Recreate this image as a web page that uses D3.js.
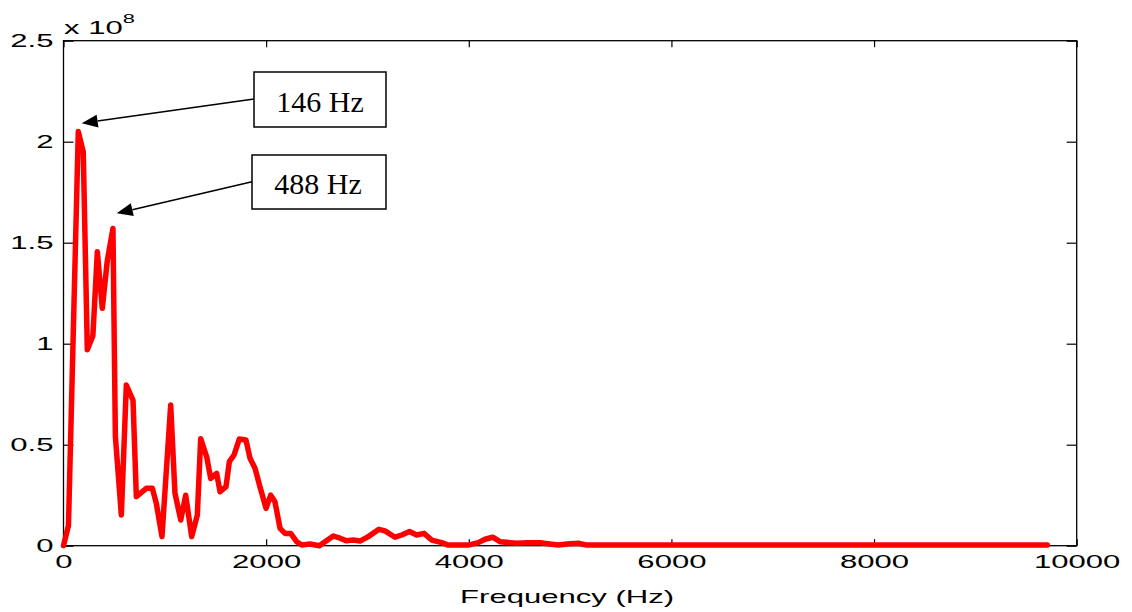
<!DOCTYPE html>
<html>
<head>
<meta charset="utf-8">
<script src="https://cdn.jsdelivr.net/npm/d3@7"></script>
<style>
  body { margin: 0; background: #fff; }
  svg { display: block; }
</style>
</head>
<body>
<script>
// spectrum (frequency in Hz, amplitude in units of 1e8)
var freqs = [0, 49, 146, 195, 235, 290, 334, 383, 432, 488, 512, 571, 620, 686, 719, 817, 877, 916, 972,
  1058, 1100, 1157, 1206, 1265, 1321, 1354, 1413, 1453, 1512, 1545, 1604, 1637, 1683, 1735, 1801, 1841,
  1890, 1939, 1999, 2045, 2087, 2137, 2186, 2242, 2301, 2351, 2433, 2525, 2581, 2663, 2729, 2788, 2861,
  2926, 3008, 3113, 3173, 3272, 3338, 3415, 3486, 3558, 3634, 3733, 3798, 3995, 4094, 4160, 4236, 4308,
  4473, 4571, 4703, 4818, 4884, 4966, 5081, 5164, 9710];
var amps = [0, 0.1, 2.05, 1.95, 0.97, 1.04, 1.455, 1.175, 1.41, 1.57, 0.54, 0.152, 0.795, 0.72, 0.243,
  0.284, 0.284, 0.21, 0.045, 0.697, 0.26, 0.127, 0.25, 0.045, 0.152, 0.53, 0.44, 0.333, 0.358, 0.267,
  0.292, 0.416, 0.449, 0.528, 0.523, 0.433, 0.383, 0.292, 0.185, 0.25, 0.218, 0.086, 0.061, 0.061, 0.02,
  0.003, 0.008, 0, 0.02, 0.048, 0.037, 0.025, 0.028, 0.023, 0.045, 0.081, 0.073, 0.042, 0.053, 0.07,
  0.053, 0.061, 0.028, 0.015, 0.003, 0.003, 0.015, 0.032, 0.042, 0.02, 0.012, 0.015, 0.015, 0.007, 0.003,
  0.008, 0.012, 0.003, 0.003];
var xTicks = [0, 2000, 4000, 6000, 8000, 10000];
var yTicks = [0, 0.5, 1, 1.5, 2, 2.5];
var yTickLabels = ['0', '0.5', '1', '1.5', '2', '2.5'];
var peakLabels = ['146 Hz', '488 Hz'];

var w = 1132;
var h = 612;
var plotL = 63.5, plotR = 1076.7, plotT = 40.7, plotB = 545.7;
var sx = 1.68; // the original text is stretched sideways
var font = '"Liberation Sans", Arial, Helvetica, sans-serif';

var svg = d3.select('body').append('svg')
            .attr('width', w)
            .attr('height', h);

var x = d3.scaleLinear().domain([0, 10000]).range([plotL, plotR]);
var y = d3.scaleLinear().domain([0, 2.5]).range([plotB, plotT]);

var data = freqs.map(function(f, i){ return {f: f, v: amps[i]}; });

// frame
svg.append('rect')
   .attr('x', plotL).attr('y', plotT)
   .attr('width', plotR - plotL).attr('height', plotB - plotT)
   .attr('fill', 'none').attr('stroke', '#000').attr('stroke-width', 1.3);

var xAxis = d3.axisBottom(x).tickValues(xTicks).tickSizeInner(-6.5).tickSizeOuter(0).tickPadding(9.3)
              .tickFormat(d3.format('d'));
var yAxis = d3.axisLeft(y).tickValues(yTicks).tickSizeInner(-10).tickSizeOuter(0).tickPadding(10)
              .tickFormat(function(d, i){ return yTickLabels[i]; });

var gx = svg.append('g').attr('transform', 'translate(0,' + plotB + ')').call(xAxis);
var gy = svg.append('g').attr('transform', 'translate(' + plotL + ',0)').call(yAxis);
svg.append('g').attr('transform', 'translate(0,' + plotT + ')')
   .call(d3.axisTop(x).tickValues(xTicks).tickSizeInner(-6.5).tickSizeOuter(0).tickFormat(''));
svg.append('g').attr('transform', 'translate(' + plotR + ',0)')
   .call(d3.axisRight(y).tickValues(yTicks).tickSizeInner(-10).tickSizeOuter(0).tickFormat(''));

svg.selectAll('.domain').remove();
svg.selectAll('.tick line').attr('stroke', '#000').attr('stroke-width', 1.2);

gx.selectAll('text')
  .style('font-family', font).style('font-size', '18.5px').attr('fill', '#000')
  .attr('transform', 'scale(' + sx + ',1)');
gy.selectAll('text')
  .style('font-family', font).style('font-size', '18.5px').attr('fill', '#000')
  .attr('x', -10 / sx)
  .attr('transform', 'scale(' + sx + ',1)');

// exponent
var ex = svg.append('text')
   .attr('transform', 'translate(64,33.5) scale(' + sx + ',1)')
   .style('font-family', font).style('font-size', '18.5px').attr('fill', '#000');
ex.append('tspan').text('x 10');
ex.append('tspan').attr('dy', -11).style('font-size', '13px').text('8');

// x label
svg.append('text')
   .attr('transform', 'translate(' + ((plotL + plotR) / 2 - 3) + ',603) scale(' + sx + ',1)')
   .attr('text-anchor', 'middle')
   .style('font-family', font).style('font-size', '18.5px').attr('fill', '#000')
   .text('Frequency (Hz)');

// spectrum line
var line = d3.line()
             .x(function(d){ return x(d.f); })
             .y(function(d){ return y(d.v); });

svg.append('path')
   .datum(data)
   .attr('d', line)
   .attr('fill', 'none')
   .attr('stroke', '#ff0000')
   .attr('stroke-width', 5.5)
   .attr('stroke-linejoin', 'round')
   .attr('stroke-linecap', 'round');

// annotations: box, label, arrow
var notes = [
  {label: peakLabels[0], box: [254, 72, 132, 55], from: [254, 99], to: [81.7, 123.3], tx: 320, ty: 112},
  {label: peakLabels[1], box: [252, 155, 134, 54], from: [252, 181.7], to: [116.7, 213.3], tx: 318, ty: 194}
];

notes.forEach(function(n){
  svg.append('rect')
     .attr('x', n.box[0]).attr('y', n.box[1])
     .attr('width', n.box[2]).attr('height', n.box[3])
     .attr('fill', '#fff').attr('stroke', '#000').attr('stroke-width', 1.5);
  svg.append('text')
     .attr('x', n.tx).attr('y', n.ty)
     .attr('text-anchor', 'middle')
     .style('font-family', '"Liberation Serif", "Times New Roman", serif')
     .style('font-size', '30px')
     .attr('fill', '#000')
     .text(n.label);

  var dx = n.to[0] - n.from[0], dy = n.to[1] - n.from[1];
  var len = Math.sqrt(dx * dx + dy * dy);
  var ux = dx / len, uy = dy / len;
  var hl = 16, hw = 6.5;
  var bx = n.to[0] - ux * hl, by = n.to[1] - uy * hl;
  svg.append('line')
     .attr('x1', n.from[0]).attr('y1', n.from[1])
     .attr('x2', bx).attr('y2', by)
     .attr('stroke', '#000').attr('stroke-width', 1.6);
  svg.append('polygon')
     .attr('points', [
       [n.to[0], n.to[1]],
       [bx - uy * hw, by + ux * hw],
       [bx + uy * hw, by - ux * hw]
     ].map(function(p){ return p.join(','); }).join(' '))
     .attr('fill', '#000');
});
</script>
</body>
</html>
